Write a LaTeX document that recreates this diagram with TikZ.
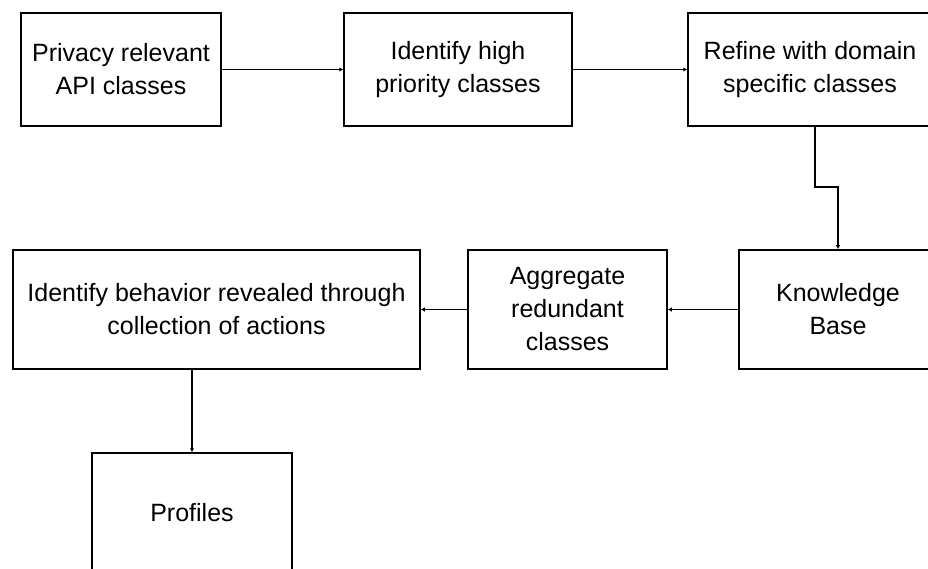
\documentclass[tikz,border=0pt]{standalone}
\usepackage{fontspec}
\setmainfont{Liberation Sans}
\usetikzlibrary{arrows.meta,calc}
\begin{document}
\begin{tikzpicture}[x=1pt,y=-1pt,
  box/.style={draw=black,line width=1.5pt,align=center,inner sep=0pt,
    font=\fontsize{25}{33}\selectfont},
  arr/.style={draw=black,line width=1.5pt,-{Latex[length=4pt,width=4.5pt]}}]
\useasboundingbox (0,0) rectangle (928,569);
\clip (0,0) rectangle (928,569);
\fill[white] (0,0) rectangle (928,569);
\node[box,minimum width=200pt,minimum height=113pt] (n1) at (121,69.5) {Privacy relevant\\API classes};
\node[box,minimum width=228pt,minimum height=113pt] (n2) at (458,69.5) {Identify high\\priority classes};
\node[box,minimum width=244pt,minimum height=113pt] (n3) at (810,69.5) {Refine with domain\\specific classes};
\node[box,minimum width=198pt,minimum height=119pt] (kb) at (838,309.5) {Knowledge\\Base};
\node[box,minimum width=199pt,minimum height=119pt] (agg) at (567.5,309.5) {Aggregate\\redundant\\classes};
\node[box,minimum width=407pt,minimum height=119pt] (beh) at (216.5,309.5) {Identify behavior revealed through\\collection of actions};
\node[box,minimum width=200pt,minimum height=120pt] (prof) at (192,513) {Profiles};
\draw[arr] (n1) -- (n2);
\draw[arr] (n2) -- (n3);
\coordinate (e1) at (815,187);
\draw[arr] (e1 |- n3.south) -- (e1) -| (kb.north);
\draw[arr] (kb) -- (agg);
\draw[arr] (agg) -- (beh);
\draw[arr] (beh.south -| prof.north) -- (prof.north);
\end{tikzpicture}
\end{document}
